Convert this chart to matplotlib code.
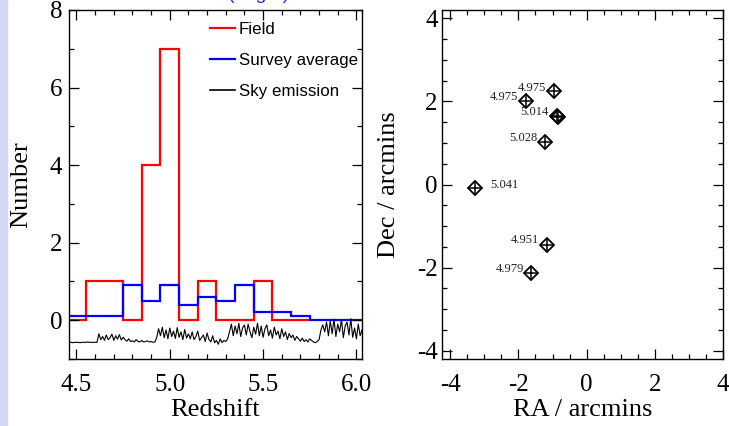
import numpy as np
import matplotlib.pyplot as plt
from matplotlib.ticker import MultipleLocator
from matplotlib.patches import Rectangle

plt.rcParams['font.family'] = ['Liberation Serif', 'DejaVu Serif']
plt.rcParams['axes.unicode_minus'] = False

# redshift histograms
field_edges = [4.45, 4.55, 4.65, 4.75, 4.85, 4.95, 5.05, 5.15, 5.25, 5.35, 5.45, 5.55, 5.65, 5.75]
field_counts = [0, 1, 1, 0, 4, 7, 0, 1, 0, 0, 1, 0, 0]
survey_edges = [4.45, 4.55, 4.65, 4.75, 4.85, 4.95, 5.05, 5.15, 5.25, 5.35, 5.45, 5.55,
                5.65, 5.75, 5.85, 5.95, 6.05]
survey_counts = [0.1, 0.1, 0.1, 0.9, 0.5, 0.9, 0.4, 0.6, 0.5, 0.9, 0.2, 0.2, 0.1, 0, 0, 0]

# sky emission spectrum (scaled, offset), sampled every 0.01 in z
sky_z0, sky_z1 = 4.46, 6.03
sky_flux = [
    -0.57, -0.57, -0.58, -0.57, -0.57, -0.57, -0.58, -0.57, -0.57, -0.57, -0.56, -0.57, -0.57, -0.57, -0.57, -0.57,
    -0.35, -0.50, -0.42, -0.52, -0.38, -0.50, -0.45, -0.36, -0.52, -0.40, -0.49, -0.37, -0.51, -0.44,
    -0.50, -0.54, -0.48, -0.55, -0.53, -0.56, -0.50, -0.55, -0.56, -0.52, -0.56, -0.55, -0.53, -0.56, -0.55, -0.57, -0.56,
    -0.45, -0.22, -0.40, -0.18, -0.45, -0.25, -0.48, -0.20, -0.42, -0.28, -0.47, -0.19, -0.44, -0.30, -0.50, -0.24, -0.46, -0.35,
    -0.48, -0.30, -0.50, -0.42, -0.28, -0.52, -0.45, -0.38, -0.55, -0.33, -0.50, -0.56, -0.40, -0.58, -0.52, -0.62, -0.48,
    -0.58, -0.52, -0.55, -0.48,
    -0.30, -0.10, -0.40, -0.15, -0.35, -0.08, -0.42, -0.20, -0.12, -0.38, -0.10, -0.30, -0.45, -0.18, -0.36, -0.08,
    -0.40, -0.15, -0.44, -0.22, -0.12, -0.40, -0.25, -0.46, -0.18, -0.38, -0.28, -0.48, -0.22, -0.42, -0.30, -0.50,
    -0.34, -0.45, -0.38, -0.52, -0.42, -0.48, -0.54, -0.46, -0.55, -0.50, -0.56, -0.48, -0.52,
    -0.56, -0.58, -0.55, -0.50,
    -0.25, -0.12, -0.30, -0.05, -0.40, -0.02, -0.35, 0.03, -0.42, -0.10, -0.30, 0.02, -0.45, -0.15, -0.05, -0.38,
    0.04, -0.44, -0.20, -0.48, -0.10, -0.40, -0.25,
]
sky_z = np.linspace(sky_z0, sky_z1, len(sky_flux))

# galaxy positions
ra = [-0.95, -1.78, -0.86, -0.83, -1.21, -3.27, -1.15, -1.62]
dec = [2.25, 2.02, 1.66, 1.63, 1.02, -0.08, -1.45, -2.14]
zlabels = ['4.975', '4.975', '5.014', '', '5.028', '5.041', '4.951', '4.979']
label_offsets = [(-5.5, 2.5), (-5.5, 2.5), (-6.5, 2.5), (0, 0), (-5.5, 3), (11, 2), (-6, 3.5), (-5.5, 3.5)]

fig = plt.figure(figsize=(7.29, 4.26), dpi=100)
fig.patches.append(Rectangle((0, 0), 7 / 729, 1, transform=fig.transFigure,
                             color='#d6d6f6', zorder=0))
# caption text cut off at the top edge of the original figure
fig.text(228 / 729, 1.003, '(bright)', color='#3030d0', fontsize=14,
         family=['Liberation Sans', 'DejaVu Sans'], ha='left', va='baseline')

ax1 = fig.add_axes([69 / 729, 1 - 359 / 426, 293 / 729, 349 / 426])
ax2 = fig.add_axes([441.7 / 729, 1 - 359 / 426, 281.3 / 729, 349 / 426])

ax1.stairs(field_counts, field_edges, color='#ff0000', lw=1.6, label='Field')
ax1.stairs(survey_counts, survey_edges, color='#0000ff', lw=1.6, label='Survey average')
ax1.plot(sky_z, sky_flux, color='black', lw=0.8, label='Sky emission')
ax1.set_xlim(4.46, 6.03)
ax1.set_ylim(-1, 8)
ax1.xaxis.set_major_locator(MultipleLocator(0.5))
ax1.xaxis.set_minor_locator(MultipleLocator(0.1))
ax1.yaxis.set_major_locator(MultipleLocator(2))
ax1.yaxis.set_minor_locator(MultipleLocator(1))
ax1.xaxis.set_major_formatter(plt.FormatStrFormatter('%.1f'))
ax1.set_xlabel('Redshift', fontsize=19)
ax1.set_ylabel('Number', fontsize=19)
ax1.xaxis.set_label_coords(0.5, -0.115)
ax1.yaxis.set_label_coords(-0.125, 0.5)

leg = ax1.legend(loc='upper left', bbox_to_anchor=(0.481, 0.966), frameon=False,
                 borderpad=0, borderaxespad=0, handlelength=1.47, handletextpad=0.25,
                 labelspacing=0.95, prop={'family': ['Liberation Sans', 'DejaVu Sans'], 'size': 12.2})
for h in leg.legend_handles:
    h.set_linewidth(1.6 if h.get_label() != 'Sky emission' else 1.2)

ax2.plot(ra, dec, ls='none', marker='D', ms=7.0, mfc='none', mec='black', mew=1.3)
ax2.plot(ra, dec, ls='none', marker='+', ms=9.8, mec='black', mew=1.1)
for x, y, lab, off in zip(ra, dec, zlabels, label_offsets):
    if lab:
        ax2.annotate(lab, (x, y), xytext=off, textcoords='offset points',
                     ha='right' if off[0] < 0 else 'left', va='center',
                     fontsize=9, color='#222222')
ax2.set_xlim(-4.25, 4.0)
ax2.set_ylim(-4.2, 4.2)
for axis in (ax2.xaxis, ax2.yaxis):
    axis.set_major_locator(MultipleLocator(2))
    axis.set_minor_locator(MultipleLocator(0.5))
ax2.set_xlabel('RA / arcmins', fontsize=19)
ax2.set_ylabel('Dec / arcmins', fontsize=19)
ax2.xaxis.set_label_coords(0.5, -0.115)
ax2.yaxis.set_label_coords(-0.15, 0.5)

for ax in (ax1, ax2):
    ax.tick_params(which='both', direction='in', top=True, right=True, width=0.9)
    ax.tick_params(which='major', length=7, labelsize=18)
    ax.tick_params(which='minor', length=3.5)
    ax.tick_params(axis='x', which='major', pad=11)
    for s in ax.spines.values():
        s.set_linewidth(1.0)
ax1.tick_params(axis='y', which='major', pad=5)
ax2.tick_params(axis='y', which='major', pad=3)

fig.savefig('out.png', dpi=100)
